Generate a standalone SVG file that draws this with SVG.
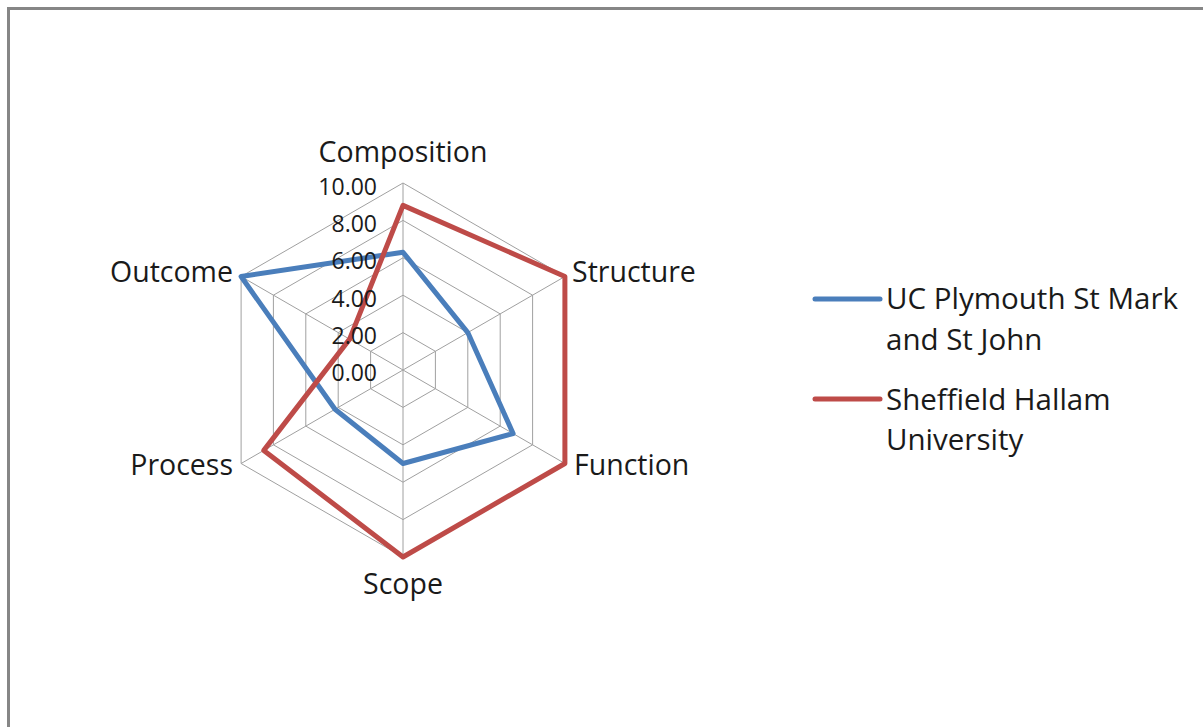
<svg xmlns="http://www.w3.org/2000/svg" width="1203" height="727" viewBox="0 0 1203 727">
<style>
.grid{fill:none;stroke:#a0a0a0;stroke-width:1}
.lbl{font-family:"Open Sans","Liberation Sans",sans-serif;font-size:28.5px;fill:#1a1a1a}
.leg{font-family:"Open Sans","Liberation Sans",sans-serif;font-size:29.5px;fill:#1a1a1a}
.tick{font-family:"Open Sans","Liberation Sans",sans-serif;font-size:23px;fill:#1a1a1a;text-anchor:end}
.s1{fill:none;stroke:#4a7ebb;stroke-width:5;stroke-linejoin:round}
.s2{fill:none;stroke:#be4b48;stroke-width:5;stroke-linejoin:round}
</style>
<rect x="0" y="0" width="1203" height="727" fill="#ffffff"/>
<rect x="8.5" y="8.5" width="1300" height="800" fill="none" stroke="#868686" stroke-width="3"/>
<g id="grid">
<polygon class="grid" points="403,332.6 435.4,351.3 435.4,388.7 403,407.4 370.6,388.7 370.6,351.3"/>
<polygon class="grid" points="403,295.2 467.8,332.6 467.8,407.4 403,444.8 338.2,407.4 338.2,332.6"/>
<polygon class="grid" points="403,257.8 500.2,313.9 500.2,426.1 403,482.2 305.8,426.1 305.8,313.9"/>
<polygon class="grid" points="403,220.4 532.6,295.2 532.6,444.8 403,519.6 273.4,444.8 273.4,295.2"/>
<polygon class="grid" points="403,183 564.9,276.5 564.9,463.5 403,557 241.1,463.5 241.1,276.5"/>
<path class="grid" d="M403,370V183M403,370L564.9,276.5M403,370L564.9,463.5M403,370V557M403,370L241.1,463.5M403,370L241.1,276.5"/>
</g>
<g id="series">
<polygon id="uc-plymouth" class="s1" points="403,252.2 467.8,332.6 513.1,433.6 403,463.5 335,409.3 241.1,276.5"/>
<polygon id="sheffield-hallam" class="s2" points="403,205.4 564.9,276.5 564.9,463.5 403,557 263.8,450.4 349.6,339.1"/>
</g>
<g id="ticks">
<text class="tick" x="377" y="195">10.00</text>
<text class="tick" x="377" y="232">8.00</text>
<text class="tick" x="377" y="269">6.00</text>
<text class="tick" x="377" y="307">4.00</text>
<text class="tick" x="377" y="344">2.00</text>
<text class="tick" x="377" y="381">0.00</text>
</g>
<g id="axis-labels">
<g id="composition"><text class="lbl" x="403" y="162" text-anchor="middle">Composition</text></g>
<g id="structure"><text class="lbl" x="572" y="282">Structure</text></g>
<g id="function"><text class="lbl" x="574" y="475">Function</text></g>
<g id="scope"><text class="lbl" x="403" y="594" text-anchor="middle">Scope</text></g>
<g id="process"><text class="lbl" x="233" y="475" text-anchor="end">Process</text></g>
<g id="outcome"><text class="lbl" x="233" y="282" text-anchor="end">Outcome</text></g>
</g>
<g id="legend">
<g id="legend-uc">
<line x1="815" y1="299" x2="880" y2="299" stroke="#4a7ebb" stroke-width="5" stroke-linecap="round"/>
<text class="leg" x="886" y="309">UC Plymouth St Mark</text>
<text class="leg" x="886" y="350">and St John</text>
</g>
<g id="legend-shu">
<line x1="815" y1="399" x2="880" y2="399" stroke="#be4b48" stroke-width="5" stroke-linecap="round"/>
<text class="leg" x="886" y="410">Sheffield Hallam</text>
<text class="leg" x="886" y="450">University</text>
</g>
</g>
</svg>
